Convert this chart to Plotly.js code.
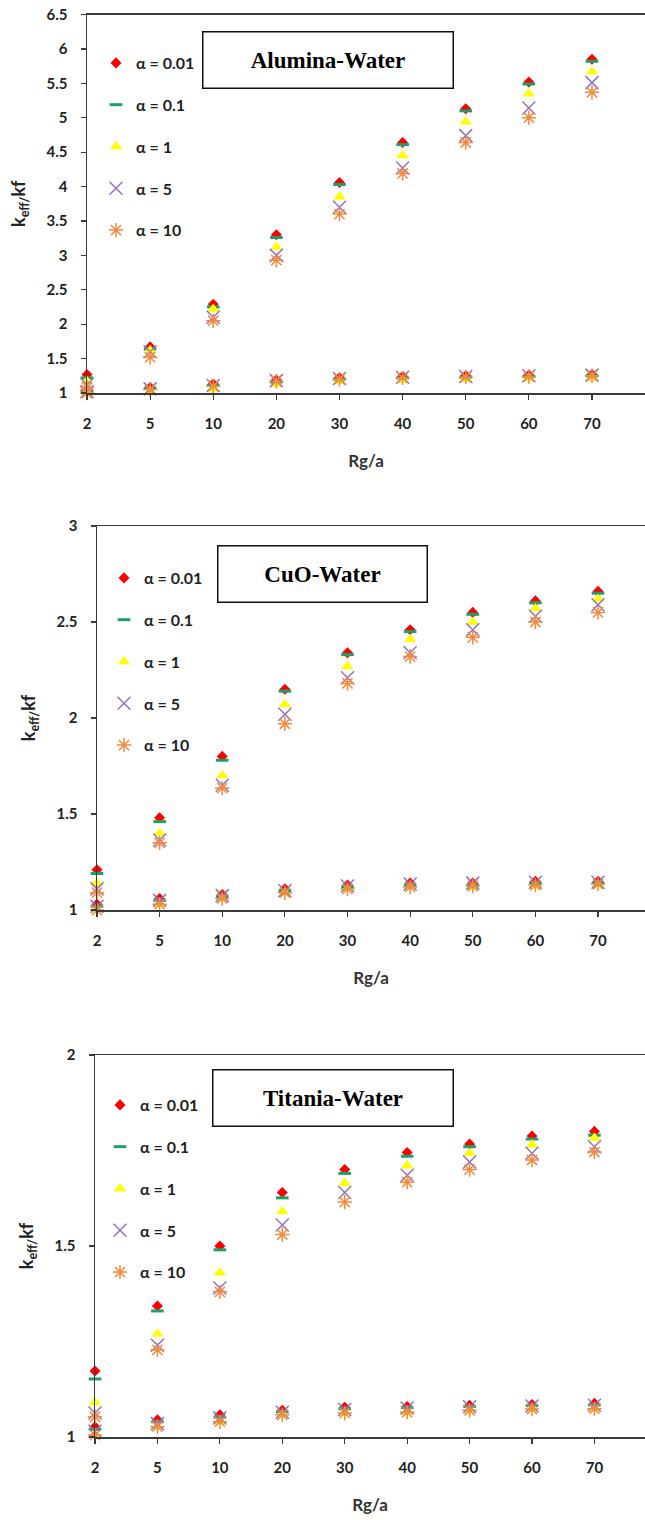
<!DOCTYPE html>
<html>
<head>
<meta charset="utf-8">
<script src="https://cdn.plot.ly/plotly-3.0.1.min.js"></script>
<style>html,body{margin:0;padding:0;background:#fff;}</style>
</head>
<body>
<div id="chart" style="width:645px;height:1520px;"></div>
<script>
// ---------- data ----------
const rgCategories = ['2', '5', '10', '20', '30', '40', '50', '60', '70'];
const alphaLabels = ['α = 0.01', 'α = 0.1', 'α = 1', 'α = 5', 'α = 10'];
const panelTitles = ['Alumina-Water', 'CuO-Water', 'Titania-Water'];

// Alumina-Water, upper branch
const aluminaUpper_a001 = [1.27, 1.67, 2.29, 3.30, 4.06, 4.64, 5.13, 5.52, 5.85];
const aluminaUpper_a01  = [1.22, 1.64, 2.25, 3.26, 4.03, 4.61, 5.10, 5.49, 5.82];
const aluminaUpper_a1   = [1.17, 1.62, 2.22, 3.12, 3.85, 4.45, 4.94, 5.35, 5.67];
const aluminaUpper_a5   = [1.12, 1.60, 2.10, 3.00, 3.70, 4.27, 4.74, 5.14, 5.51];
const aluminaUpper_a10  = [1.08, 1.52, 2.05, 2.93, 3.60, 4.19, 4.64, 5.00, 5.37];
// Alumina-Water, lower branch
const aluminaLower_a001 = [1.04, 1.08, 1.13, 1.19, 1.22, 1.24, 1.25, 1.26, 1.27];
const aluminaLower_a01  = [1.03, 1.07, 1.11, 1.16, 1.20, 1.22, 1.23, 1.24, 1.25];
const aluminaLower_a1   = [1.00, 1.03, 1.06, 1.13, 1.17, 1.19, 1.20, 1.21, 1.22];
const aluminaLower_a5   = [1.02, 1.06, 1.11, 1.18, 1.21, 1.23, 1.24, 1.25, 1.26];
const aluminaLower_a10  = [1.00, 1.05, 1.10, 1.17, 1.20, 1.22, 1.23, 1.24, 1.25];

// CuO-Water, upper branch
const cuoUpper_a001 = [1.21, 1.48, 1.80, 2.15, 2.34, 2.46, 2.55, 2.61, 2.66];
const cuoUpper_a01  = [1.19, 1.46, 1.78, 2.14, 2.33, 2.45, 2.54, 2.60, 2.65];
const cuoUpper_a1   = [1.14, 1.40, 1.70, 2.07, 2.27, 2.41, 2.50, 2.57, 2.62];
const cuoUpper_a5   = [1.11, 1.365, 1.65, 2.02, 2.21, 2.34, 2.46, 2.53, 2.59];
const cuoUpper_a10  = [1.09, 1.35, 1.635, 1.97, 2.18, 2.32, 2.42, 2.50, 2.55];
// CuO-Water, lower branch
const cuoLower_a001 = [1.03, 1.06, 1.08, 1.11, 1.13, 1.14, 1.14, 1.15, 1.15];
const cuoLower_a01  = [1.02, 1.05, 1.07, 1.10, 1.12, 1.13, 1.13, 1.14, 1.14];
const cuoLower_a1   = [1.00, 1.03, 1.06, 1.09, 1.11, 1.12, 1.12, 1.125, 1.13];
const cuoLower_a5   = [1.02, 1.05, 1.075, 1.10, 1.125, 1.135, 1.14, 1.145, 1.145];
const cuoLower_a10  = [1.00, 1.03, 1.06, 1.09, 1.11, 1.12, 1.125, 1.13, 1.135];

// Titania-Water, upper branch
const titaniaUpper_a001 = [1.173, 1.343, 1.50, 1.64, 1.70, 1.745, 1.767, 1.788, 1.80];
const titaniaUpper_a01  = [1.152, 1.33, 1.49, 1.626, 1.69, 1.735, 1.76, 1.78, 1.79];
const titaniaUpper_a1   = [1.09, 1.27, 1.43, 1.59, 1.665, 1.71, 1.743, 1.765, 1.783];
const titaniaUpper_a5   = [1.063, 1.24, 1.39, 1.555, 1.64, 1.685, 1.72, 1.743, 1.76];
const titaniaUpper_a10  = [1.053, 1.228, 1.38, 1.53, 1.615, 1.667, 1.70, 1.725, 1.746];
// Titania-Water, lower branch
const titaniaLower_a001 = [1.027, 1.045, 1.058, 1.07, 1.078, 1.08, 1.083, 1.085, 1.088];
const titaniaLower_a01  = [1.02, 1.04, 1.052, 1.066, 1.074, 1.077, 1.08, 1.082, 1.084];
const titaniaLower_a1   = [1.005, 1.027, 1.04, 1.058, 1.063, 1.065, 1.07, 1.073, 1.074];
const titaniaLower_a5   = [1.015, 1.035, 1.05, 1.065, 1.072, 1.076, 1.079, 1.081, 1.083];
const titaniaLower_a10  = [1.005, 1.027, 1.04, 1.058, 1.063, 1.065, 1.07, 1.073, 1.074];

const panelUpper = [
  [aluminaUpper_a001, aluminaUpper_a01, aluminaUpper_a1, aluminaUpper_a5, aluminaUpper_a10],
  [cuoUpper_a001, cuoUpper_a01, cuoUpper_a1, cuoUpper_a5, cuoUpper_a10],
  [titaniaUpper_a001, titaniaUpper_a01, titaniaUpper_a1, titaniaUpper_a5, titaniaUpper_a10]
];
const panelLower = [
  [aluminaLower_a001, aluminaLower_a01, aluminaLower_a1, aluminaLower_a5, aluminaLower_a10],
  [cuoLower_a001, cuoLower_a01, cuoLower_a1, cuoLower_a5, cuoLower_a10],
  [titaniaLower_a001, titaniaLower_a01, titaniaLower_a1, titaniaLower_a5, titaniaLower_a10]
];

// ---------- styling ----------
const W = 645, H = 1520;
const FONT = 'Lato, "Open Sans", "Liberation Sans", sans-serif';
const AXIS_COLOR = '#3a3a3a';

const markerStyles = [
  {symbol: 'diamond', size: 8.5, color: '#FF0000', line: {width: 0}},
  {symbol: 'line-ew', size: 9, color: '#1E9E6A', line: {width: 3, color: '#1E9E6A'}},
  {symbol: 'triangle-up', size: 11, color: '#FFFF00', line: {width: 0}},
  {symbol: 'x-thin', size: 13, color: '#9272C4', line: {width: 1.5, color: '#9272C4'}},
  {symbol: 'asterisk', size: 12, color: '#F58A3C', line: {width: 1.5, color: '#F58A3C'}}
];

// panel geometry (pixels)
const panels = [
  {left: 87, top: 14.5, bottom: 393, xEnd: 8.84, yMax: 6.5, legendLeft: 96, legendTop: 46, box: {cx: 327.5, cy: 59.5, w: 249, h: 55}},
  {left: 97, top: 526, bottom: 910, xEnd: 8.75, yMax: 3, legendLeft: 104, legendTop: 561, box: {cx: 322, cy: 573.5, w: 208, h: 55}},
  {left: 95, top: 1055, bottom: 1437, xEnd: 8.81, yMax: 2, legendLeft: 100, legendTop: 1088, box: {cx: 332.5, cy: 1097.5, w: 239, h: 55}}
];

const traces = [];
const layout = {
  width: W, height: H,
  margin: {l: 0, r: 0, t: 0, b: 0},
  paper_bgcolor: '#ffffff', plot_bgcolor: '#ffffff',
  showlegend: true,
  font: {family: FONT, color: '#222222'},
  annotations: []
};

panels.forEach((p, pi) => {
  const sfx = pi === 0 ? '' : String(pi + 1);
  const xName = 'x' + sfx, yName = 'y' + sfx;
  const legendName = 'legend' + sfx;

  for (let s = 0; s < 5; s++) {
    const m = markerStyles[s];
    traces.push({
      type: 'scatter', mode: 'markers',
      x: rgCategories.concat(rgCategories),
      y: panelUpper[pi][s].concat(panelLower[pi][s]),
      name: alphaLabels[s],
      xaxis: xName, yaxis: yName,
      legend: legendName,
      legendgroup: 'p' + pi + 's' + s,
      cliponaxis: false,
      marker: {symbol: m.symbol, size: m.size, color: m.color, line: m.line},
      hoverinfo: 'x+y+name'
    });
  }

  layout['xaxis' + sfx] = {
    domain: [p.left / W, 1],
    anchor: yName,
    type: 'category',
    categoryorder: 'array', categoryarray: rgCategories,
    range: [0, p.xEnd],
    showline: true, linecolor: AXIS_COLOR, linewidth: 1.5, mirror: true,
    ticks: 'outside', ticklen: 5, tickwidth: 1.2, tickcolor: AXIS_COLOR,
    showgrid: false, zeroline: false,
    ticklabelstandoff: 11,
    tickfont: {family: FONT, size: 15, weight: 'bold', color: '#222'},
    title: {text: 'Rg/a', standoff: 24, font: {family: FONT, size: 17, weight: 'bold', color: '#333'}}
  };
  layout['yaxis' + sfx] = {
    domain: [1 - p.bottom / H, 1 - p.top / H],
    anchor: xName,
    range: [1, p.yMax], dtick: 0.5, tick0: 1,
    showline: true, linecolor: AXIS_COLOR, linewidth: 1.5,
    ticks: 'outside', ticklen: 5, tickwidth: 1.2, tickcolor: AXIS_COLOR,
    showgrid: false, zeroline: false,
    ticklabelstandoff: 10,
    tickfont: {family: FONT, size: 15, weight: 'bold', color: '#222'},
    title: {text: 'k<sub>eff/</sub>kf', standoff: 16, font: {family: FONT, size: 18, weight: 'bold', color: '#222'}}
  };
  layout[legendName] = {
    x: p.legendLeft / W, y: 1 - p.legendTop / H,
    xref: 'paper', yref: 'paper',
    xanchor: 'left', yanchor: 'top',
    bgcolor: 'rgba(0,0,0,0)', borderwidth: 0,
    traceorder: 'grouped', tracegroupgap: 18,
    font: {family: FONT, size: 16, weight: 'bold', color: '#222'}
  };
  layout.annotations.push({
    xref: 'paper', yref: 'paper',
    x: p.box.cx / W, y: 1 - p.box.cy / H,
    xanchor: 'center', yanchor: 'middle',
    text: panelTitles[pi], showarrow: false,
    width: p.box.w, height: p.box.h,
    bgcolor: '#ffffff', bordercolor: '#111111', borderwidth: 1.5, borderpad: 0,
    font: {family: '"Liberation Serif", "Times New Roman", serif', size: 23, weight: 'bold', color: '#000'}
  });
});

Plotly.newPlot('chart', traces, layout, {staticPlot: true, displayModeBar: false});
</script>
</body>
</html>
